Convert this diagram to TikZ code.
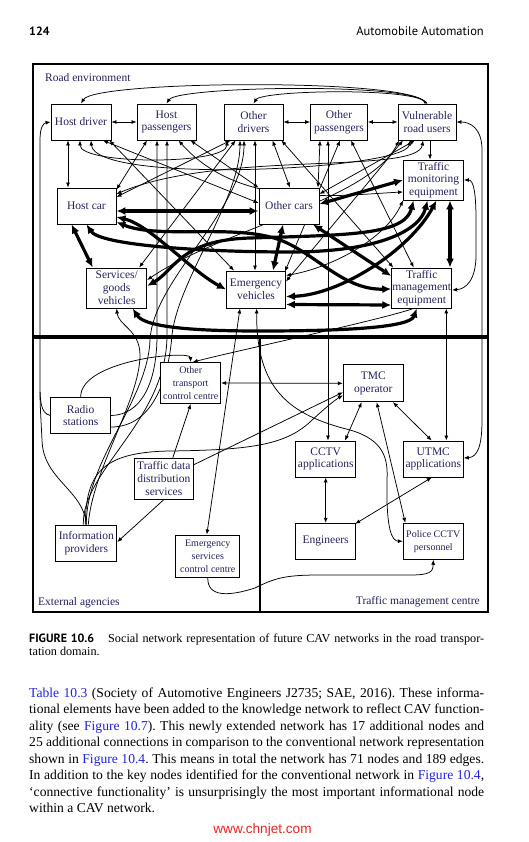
\documentclass[tikz,border=0pt]{standalone}
\usepackage{fontspec}
\setmainfont{Liberation Serif}
\setsansfont{PT Sans}
\newfontfamily\wmfont{Liberation Sans}
\usetikzlibrary{arrows.meta}
\pgfdeclarelayer{bg}
\pgfsetlayers{bg,main}
\definecolor{nodetxt}{RGB}{35,35,90}
\definecolor{linkblue}{RGB}{35,35,225}
\definecolor{wmred}{RGB}{235,35,35}
\frenchspacing
\begin{document}
\begin{tikzpicture}[x=1pt,y=-1pt,
  box/.style={draw, line width=0.9pt, fill=white, inner sep=0pt, align=center, text=nodetxt, font=\fontsize{11.5}{12.8}\selectfont},
  sbox/.style={box, font=\fontsize{10}{13}\selectfont},
  lbl/.style={inner sep=0pt, text=nodetxt, font=\fontsize{11.5}{13}\selectfont},
  lnb/.style={line width=0.75pt, {Latex[length=5pt,width=4pt]}-{Latex[length=5pt,width=4pt]}},
  lne/.style={line width=0.75pt, -{Latex[length=5pt,width=4pt]}},
  lnp/.style={line width=0.75pt},
  thk/.style={line width=3.2pt, {Latex[length=9pt,width=8pt]}-{Latex[length=9pt,width=8pt]}},
  body/.style={anchor=base west, inner sep=0pt, font=\fontsize{13.6}{16.5}\selectfont},
]
\useasboundingbox (0,0) rectangle (529,842);

% header
\node[anchor=west, inner sep=0pt, font=\sffamily\bfseries\fontsize{12}{14}\selectfont] (pg) at (29,31) {124};
\node[anchor=east, inner sep=0pt, font=\sffamily\fontsize{12.5}{14}\selectfont] (rh) at (484,31) {Automobile Automation};

% frame
\draw[line width=2pt] (33,64) rectangle (488,612);
\draw[line width=3.2pt] (33,337) -- (488,337);
\draw[line width=1.6pt] (260,337) -- (260,612);

\node[lbl, anchor=west] (lre) at (45,78) {Road environment};
\node[lbl, anchor=west] (lea) at (38,603) {External agencies};
\node[lbl, anchor=east] (ltm) at (480,602) {Traffic management centre};

% nodes
\node[box, minimum width=60pt, minimum height=36pt] (HD) at (81,122) {Host driver};
\node[box, minimum width=59pt, minimum height=36pt] (HP) at (166.5,122) {Host\\passengers};
\node[box, minimum width=59pt, minimum height=36pt] (OD) at (253.5,122) {Other\\drivers};
\node[box, minimum width=57pt, minimum height=36pt] (OP) at (339,122) {Other\\passengers};
\node[box, minimum width=58pt, minimum height=36pt] (VRU) at (427,122) {Vulnerable\\road users};
\node[box, minimum width=60pt, minimum height=40pt] (TMon) at (433.5,180) {Traffic\\monitoring\\equipment};
\node[box, minimum width=60pt, minimum height=36pt] (OC) at (289,206) {Other cars};
\node[box, minimum width=59pt, minimum height=36pt] (HC) at (86.5,206) {Host car};
\node[box, minimum width=60pt, minimum height=40pt] (SGV) at (116.7,288) {Services/\\goods\\vehicles};
\node[box, minimum width=59pt, minimum height=37pt] (EV) at (256,289.5) {Emergency\\vehicles};
\node[box, minimum width=60pt, minimum height=40pt] (TMan) at (421.7,288) {Traffic\\management\\equipment};
\node[box, minimum width=60pt, minimum height=36pt] (RS) at (80.7,415.5) {Radio\\stations};
\node[sbox, minimum width=60pt, minimum height=41pt] (OTCC) at (190.7,383) {Other\\transport\\control centre};
\node[box, minimum width=60pt, minimum height=37pt] (TMC) at (373.3,383.3) {TMC\\operator};
\node[box, minimum width=60pt, minimum height=36pt] (CCTV) at (325.7,459) {CCTV\\applications};
\node[box, minimum width=60pt, minimum height=36pt] (UTMC) at (433.3,459) {UTMC\\applications};
\node[box, minimum width=59pt, minimum height=41pt] (TDDS) at (163.8,478.7) {Traffic data\\distribution\\services};
\node[box, minimum width=61pt, minimum height=36pt] (IP) at (86.3,543) {Information\\providers};
\node[sbox, minimum width=64pt, minimum height=42pt] (ESCC) at (207.8,556) {Emergency\\services\\control centre};
\node[box, minimum width=60pt, minimum height=36pt] (ENG) at (325.7,541.3) {Engineers};
\node[sbox, minimum width=60pt, minimum height=36pt] (PCP) at (433.3,541.3) {Police CCTV\\personnel};

\coordinate (lj) at (40,392);

\begin{pgfonlayer}{bg}
\fill[white] (0,0) rectangle (529,842);
% top row
\draw[lnb] (HD.east) -- (HP.west);
\draw[lnb] (OD.east) -- (OP.west);
\draw[lnb] (OP.east) -- (VRU.west);
\draw[lne] ([xshift=-2]VRU.north) .. controls (423,78) and (95,80) .. (HD.north);
\draw[lne] ([xshift=-1]VRU.north) .. controls (422,82) and (178,86) .. (HP.north);
\draw[lne] (VRU.north) .. controls (421,87) and (262,90) .. (OD.north);
\draw[lnb] ([xshift=-13]HD.south) -- ([xshift=-18.5]HC.north);
\draw[lne] ([xshift=3]VRU.south) -- ([xshift=-3.5]TMon.north);
\draw[lnb] ([xshift=-1]HD.south) .. controls (80,165) and (227,165) .. ([xshift=-26.5]OD.south);
\draw[lnb] ([xshift=10]HD.south) .. controls (95,185) and (405,170) .. ([xshift=-17]VRU.south);
\draw[lnb] ([xshift=22]HD.south) -- ([yshift=3]OC.west);
\draw[lnb] ([xshift=-2]HD.south east) -- ([xshift=-22]EV.north);
\draw[lnb] ([xshift=-19.5]HP.south) -- ([yshift=-2]HC.north east);
\draw[lnb] ([xshift=-23]OD.south) -- ([yshift=9]HC.east);
\draw[lnb] ([xshift=-18]OD.south) -- ([xshift=-8]SGV.north east);
\draw[lnb] ([xshift=19]OD.south) -- ([xshift=1]OC.north);
\draw[lnb] ([xshift=1.5]OD.south) -- ([xshift=-1]EV.north);
\draw[lnb] ([xshift=-2]OD.south east) -- ([xshift=2]TMan.north west);
\draw[lnb] ([xshift=-19]OP.south) -- ([xshift=29]OC.north);
\draw[lnb] ([xshift=-11]OP.south) -- ([xshift=2.3]CCTV.north);
\draw[lnb] ([xshift=12]OP.south) -- ([xshift=-8]TMan.north);
\draw[lnb] ([xshift=1]OP.south) -- ([xshift=-1,yshift=-1]EV.north east);
\draw[lnb] ([xshift=-4]VRU.south) .. controls (418,175) and (220,150) .. ([yshift=12]HC.east);
\draw[lnb] ([xshift=-24]VRU.south) -- ([yshift=8]EV.east);
\draw[lnb] ([xshift=-28]VRU.south) .. controls (370,200) and (220,230) .. ([yshift=8]SGV.east);
\draw[lnb] ([yshift=12]OC.east) -- ([xshift=-12]VRU.south);
\draw[lnb] ([xshift=12]HP.south) .. controls (240,210) and (340,195) .. ([yshift=-12]TMon.west);
\draw[lnb] ([xshift=24]HP.south) -- (OC.north west);
\draw[lnb] (TMon.south west) .. controls (385,240) and (330,268) .. ([yshift=14]EV.east);
% right side
\draw[lnb] (TMon.east) .. controls (474,180) and (476,195) .. (476,220) -- (476,255) .. controls (476,280) and (466,289) .. ([yshift=-2]TMan.east);
\draw[lnb] ([yshift=1]UTMC.east) .. controls (478,457) and (482,445) .. (482,420) -- (482,150) .. controls (482,128) and (470,122) .. (VRU.east);
\draw[lnb] ([xshift=13]UTMC.north) -- ([xshift=24.6]TMan.south);
% lower
\draw[lnb] ([xshift=-16]EV.south) -- ([xshift=-1]ESCC.north);
\draw[lnb] ([xshift=0.7]EV.south) .. controls (256,390) and (290,415) .. (350,430) .. controls (385,440) and (388,460) .. (387,480) .. controls (386,530) and (392,541) .. (PCP.west);
\draw[lnb] ([xshift=3.4]TMC.south) -- ([xshift=-28]PCP.north);
\draw[lnb] ([xshift=-11.6]TMC.south) -- ([xshift=19.3]CCTV.north);
\draw[lnb] ([xshift=19.7]TMC.south) -- ([xshift=-1.6]UTMC.north);
\draw[lnb] (CCTV.south) -- (ENG.north);
\draw[lnb] ([xshift=-1.6]UTMC.south) -- ([xshift=-1,yshift=-1]ENG.north east);
\draw[lnb] (OTCC.east) -- (TMC.west);
\draw[lne] ([yshift=-7]TDDS.north east) -- ([yshift=-9]TMC.west);
\draw[lne] ([xshift=-1]IP.north) .. controls (86,475) and (100,452) .. (170,451) .. controls (250,450) and (285,445) .. (310,422) .. controls (325,408) and (335,400) .. ([yshift=-12]TMC.west);
\draw[lne] ([xshift=9]TDDS.north) -- (OTCC.south);
\draw[lne] (TDDS.south) -- ([yshift=1]IP.east);
\draw[lne] (RS.north) .. controls (80,360) and (190,350) .. (OTCC.north);
\draw[lne] ([xshift=-8]TMan.south) .. controls (380,320) and (240,350) .. ([xshift=2]OTCC.north);
\draw[lne] (RS.west) .. controls (40,413) and (40,400) .. (40,380) -- (40,140) .. controls (40,126) and (44,123) .. (HD.west);
\draw[lnp] (IP.north) .. controls (84,490) and (43,480) .. (42,440) .. controls (41,420) and (40,405) .. (lj);
\draw[lne] (RS.east) .. controls (140,415) and (157,385) .. (157,335) -- ([xshift=-9.5]HP.south);
\draw[lne] ([yshift=-11.5]RS.east) .. controls (150,427) and (168,385) .. (172,335) .. controls (178,280) and (240,200) .. ([xshift=-13.5]OD.south);
\draw[lne] ([xshift=-3]IP.north) .. controls (82,470) and (167,420) .. (167,335) -- ([xshift=0.5]HP.south);
\draw[lne] (IP.north) .. controls (86,460) and (148,400) .. (150,340) .. controls (153,280) and (244,210) .. ([xshift=-9.5]OD.south);
\draw[lne] ([xshift=2]IP.north) .. controls (92,470) and (140,400) .. (140,355) .. controls (140,330) and (118,325) .. (SGV.south);
\draw[lne] (ESCC.south) .. controls (207,598) and (230,596) .. (255,588) .. controls (275,578) and (285,575) .. (320,575) -- (410,575) .. controls (430,575) and (433,572) .. (PCP.south);
% thick
\draw[thk] ([yshift=-5]HC.east) -- ([yshift=-5]OC.west);
\draw[thk] ([xshift=-15]HC.south) -- ([xshift=-24]SGV.north);
\draw[thk] ([yshift=-11]HC.east) .. controls (150,225) and (190,270) .. (EV.west);
\draw[thk] ([yshift=-16]HC.east) .. controls (160,240) and (240,222) .. (285,242) .. controls (320,258) and (345,290) .. ([yshift=-1]TMan.west);
\draw[thk] (HC.south) .. controls (100,245) and (200,252) .. (290,252) .. controls (380,252) and (420,230) .. ([xshift=-6]TMon.south);
\draw[thk] ([yshift=2]OC.east) -- (TMon.west);
\draw[thk] ([xshift=-6]OC.south) -- ([xshift=17]EV.north);
\draw[thk] ([xshift=24]OC.south) -- ([yshift=12]TMan.west);
\draw[thk] ([yshift=2]SGV.east) .. controls (175,270) and (180,240) .. (250,238) .. controls (350,235) and (405,235) .. ([xshift=-20]TMon.south);
\draw[thk] ([yshift=-7]EV.east) .. controls (340,295) and (410,250) .. ([xshift=3]TMon.south);
\draw[thk] ([yshift=-15]EV.east) -- ([yshift=-17]TMan.west);
\draw[thk] ([xshift=16]SGV.south) .. controls (145,328) and (200,331) .. (260,331) .. controls (340,331) and (410,328) .. ([xshift=-5]TMan.south);
\draw[thk] ([xshift=16.5]TMon.south) -- ([xshift=28.3]TMan.north);
\end{pgfonlayer}

% caption
\node[anchor=base west, inner sep=0pt] (cap1) at (29,642) {\hbox to 455pt{\sffamily\bfseries\fontsize{12}{13}\selectfont FIGURE 10.6\hspace{14pt}\rmfamily\mdseries\fontsize{12.2}{13}\selectfont Social network representation of future CAV networks in the road transpor-}};
\node[anchor=base west, inner sep=0pt, font=\fontsize{12.2}{13}\selectfont] (cap2) at (29,655) {tation domain.};

% body text
\node[body] (b1) at (29,697) {\hbox to 455pt{\textcolor{linkblue}{Table 10.3} (Society of Automotive Engineers J2735; SAE, 2016). These informa-}};
\node[body] (b2) at (29,713.5) {\hbox to 455pt{tional elements have been added to the knowledge network to reflect CAV function-}};
\node[body] (b3) at (29,730) {\hbox to 455pt{ality (see \textcolor{linkblue}{Figure 10.7}). This newly extended network has 17 additional nodes and}};
\node[body] (b4) at (29,746.5) {\hbox to 455pt{25 additional connections in comparison to the conventional network representation}};
\node[body] (b5) at (29,763) {\hbox to 455pt{shown in \textcolor{linkblue}{Figure 10.4}. This means in total the network has 71 nodes and 189 edges.}};
\node[body] (b6) at (29,779.5) {\hbox to 455pt{In addition to the key nodes identified for the conventional network in \textcolor{linkblue}{Figure 10.4},}};
\node[body] (b7) at (29,796) {\hbox to 455pt{‘connective functionality’ is unsurprisingly the most important informational node}};
\node[body] (b8) at (29,812.5) {within a CAV network.};

% watermark
\node[inner sep=0pt, text=wmred, font=\wmfont\fontsize{13.6}{15}\selectfont] (wm) at (262.5,830) {www.chnjet.com};
\end{tikzpicture}
\end{document}
